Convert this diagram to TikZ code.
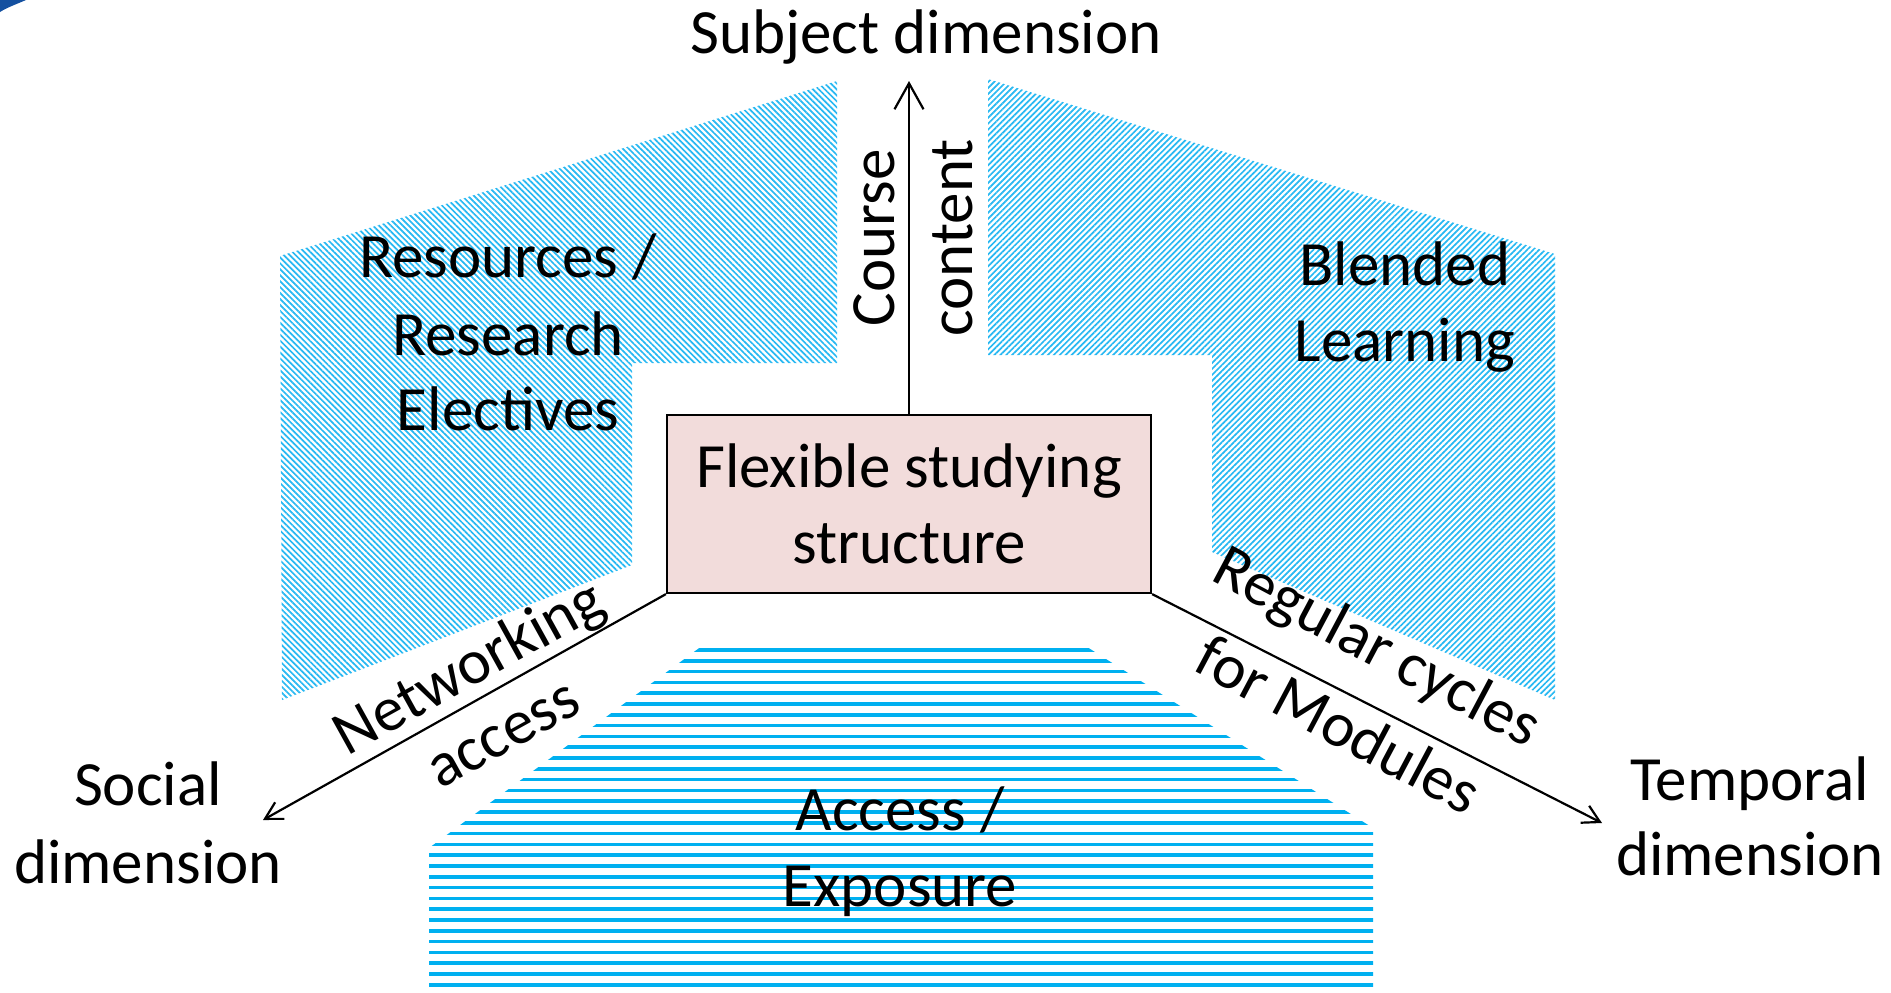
\documentclass[tikz,border=0pt]{standalone}
\usepackage{fontspec}
\setmainfont{Carlito}
\usetikzlibrary{arrows.meta,patterns.meta}
\definecolor{hatch}{RGB}{0,176,240}
\definecolor{hatchlight}{RGB}{40,184,242}
\definecolor{boxfill}{RGB}{242,220,219}
\definecolor{swoosh}{RGB}{20,80,160}
\begin{document}
\begin{tikzpicture}[x=1pt,y=-1pt,
  lbl/.style={font=\fontsize{63}{76}\selectfont, inner sep=0pt, anchor=base},
  axis/.style={draw=black, line width=2.2pt},
  hatchL/.style={pattern={Lines[angle=-45,distance=4.2pt,line width=1.7pt]}, pattern color=hatchlight},
  hatchR/.style={pattern={Lines[angle=45,distance=4.2pt,line width=1.7pt]}, pattern color=hatchlight},
  stripe/.style={draw=hatch, line width=3.6pt},
  centerbox/.style={draw=black, line width=2.2pt, fill=boxfill, minimum width=484pt, minimum height=178pt, inner sep=0pt, align=center, font=\fontsize{63}{76}\selectfont}
]
\useasboundingbox (0,0) rectangle (1891,993);

% top-left swoosh fragment
\fill[swoosh] (0,0) -- (26,0) .. controls (17,4) and (8,7) .. (0,12) -- cycle;

% hatched regions
\fill[hatchL] (280,256) -- (837,81) -- (837,363) -- (632,363) -- (632,565) -- (282,700) -- cycle;
\fill[hatchR] (988,79) -- (1555,254) -- (1555,700) -- (1212,552) -- (1212,355) -- (988,355) -- cycle;

\begin{scope}
  \clip (710,640) -- (1076,640) -- (1373,828) -- (1373,993) -- (429,993) -- (429,848) -- cycle;
  \foreach \k in {0,...,31} \draw[stripe] (400,650+10.8*\k) -- (1400,650+10.8*\k);
\end{scope}

% central box
\node[centerbox] (box) at (909,504) {Flexible studying\\structure};

% axes
\coordinate (top) at (909,81);
\coordinate (sw) at (263,820);
\coordinate (se) at (1602,823);
\draw[axis, -{Straight Barb[length=26pt,width=29pt]}] (box.north) -- (top);
\draw[axis, -{Straight Barb[length=17pt,width=19pt]}] (box.south west) -- (sw);
\draw[axis, -{Straight Barb[length=17pt,width=19pt]}] (box.south east) -- (se);

% labels
\node[lbl] (subj) at (926,53) {Subject dimension};
\node[lbl] (res1) at (508,277) {Resources /};
\node[lbl] (res2) at (508,355) {Research};
\node[lbl] (res3) at (508,430) {Electives};
\node[lbl] (bl1) at (1405,285) {Blended};
\node[lbl] (bl2) at (1405,361) {Learning};
\node[lbl] (acc1) at (900,830) {Access /};
\node[lbl] (acc2) at (900,906) {Exposure};
\node[lbl] (soc1) at (148,805) {Social};
\node[lbl] (soc2) at (148,883) {dimension};
\node[lbl] (tem1) at (1750,800) {Temporal};
\node[lbl] (tem2) at (1750,875) {dimension};
\node[lbl, rotate=90] (crs) at (894,238) {Course};
\node[lbl, rotate=90] (cnt) at (972,238) {content};
\node[lbl, rotate=29] (net) at (478,684) {Networking};
\node[lbl, rotate=29] (acs) at (512,750) {access};
\node[lbl, rotate=-28] (reg) at (1368,664) {Regular cycles};
\node[lbl, rotate=-28] (mod) at (1329,743) {for Modules};
\end{tikzpicture}
\end{document}
